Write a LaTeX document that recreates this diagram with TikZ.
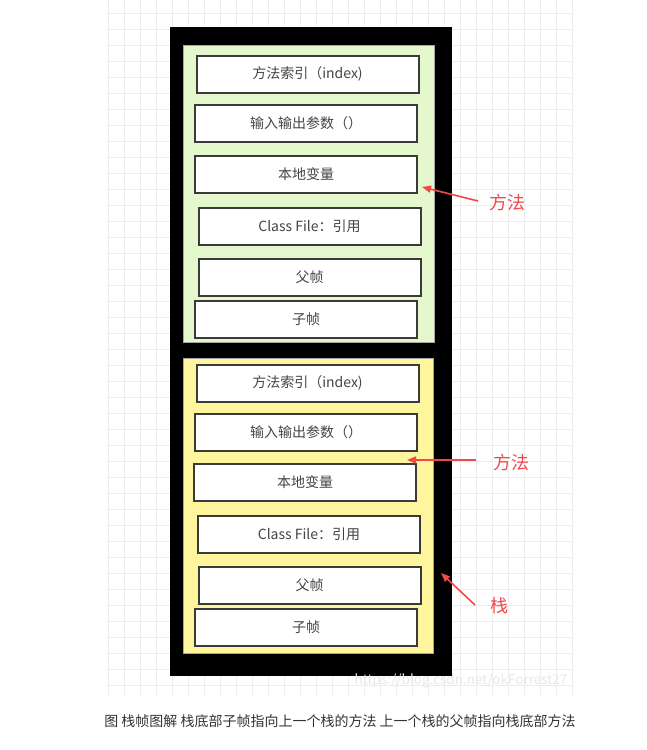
\documentclass[tikz,border=0pt]{standalone}
\usepackage{fontspec}
\setmainfont{Noto Sans CJK SC}
\usetikzlibrary{arrows.meta}

\definecolor{gridgray}{HTML}{EDEDED}
\definecolor{boxline}{HTML}{3A3A3A}
\definecolor{boxtext}{HTML}{444444}
\definecolor{framegreen}{HTML}{E4F7CD}
\definecolor{frameyellow}{HTML}{FFF59C}
\definecolor{markred}{HTML}{F2484B}

\tikzset{
  slot/.style={draw=boxline, line width=2pt, fill=white, text=boxtext,
    minimum width=222pt, minimum height=37pt, inner sep=0pt,
    font=\fontsize{14}{16}\selectfont},
  redlabel/.style={text=markred, font=\fontsize{18}{20}\selectfont},
  pointer/.style={draw=markred, line width=1.6pt, -{Triangle[length=9pt,width=7pt]}}
}

\begin{document}
\begin{tikzpicture}[x=1pt, y=-1pt]
\useasboundingbox (0,0) rectangle (647,750);

% grid paper
\begin{scope}[gridgray, line width=0.8pt]
\foreach \gx in {108,124,...,572} \draw (\gx,0) -- (\gx,695);
\foreach \gy in {13,29,...,690} \draw (106,\gy) -- (573,\gy);
\end{scope}

% stack
\fill [black] (170,27) rectangle (452,676);
\filldraw [fill=framegreen, draw=gray!70, line width=0.8pt] (183,45) rectangle (434,342);
\filldraw [fill=frameyellow, draw=gray!70, line width=0.8pt] (183,358) rectangle (433,653);

% upper frame
\node [slot] (gidx)  at (307.5,74)  {方法索引（index)};
\node [slot] (gio)   at (306,123.5) {输入输出参数（）};
\node [slot] (gloc)  at (306,174)   {本地变量};
\node [slot] (gcls)  at (309.5,226) {Class File：引用};
\node [slot] (gpar)  at (309.5,277) {父帧};
\node [slot] (gchd)  at (306,319)   {子帧};

% lower frame
\node [slot] (yidx)  at (307.5,383) {方法索引（index)};
\node [slot] (yio)   at (306,432)   {输入输出参数（）};
\node [slot] (yloc)  at (305,482.5) {本地变量};
\node [slot] (ycls)  at (309,534.5) {Class File：引用};
\node [slot] (ypar)  at (309.5,585.5) {父帧};
\node [slot] (ychd)  at (306,627)   {子帧};

% labels
\node [redlabel] (lmeth1) at (507,203) {方法};
\node [redlabel] (lmeth2) at (511,463) {方法};
\node [redlabel] (lstack) at (499,606) {栈};

\coordinate (t1) at (478,201);
\coordinate (h1) at (422,187);
\coordinate (t2) at (476,460);
\coordinate (h2) at (407,460);
\coordinate (t3) at (475,605);
\coordinate (h3) at (441,573);

\draw [pointer] (t1) -- (h1);
\draw [pointer] (t2) -- (h2);
\draw [pointer] (t3) -- (h3);

% watermark and caption
\node [text=gray!18, font=\fontsize{13.5}{16}\selectfont] (wmark) at (461,681) {https://blog.csdn.net/okForrest27};
\node [text=black!80, font=\fontsize{14}{16}\selectfont] (capt) at (340,721) {图 栈帧图解 栈底部子帧指向上一个栈的方法 上一个栈的父帧指向栈底部方法};

\end{tikzpicture}
\end{document}
